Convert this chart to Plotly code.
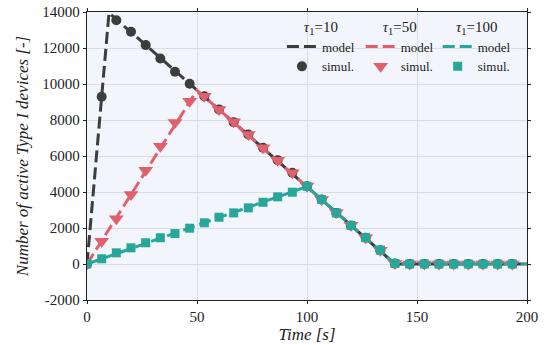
import plotly.graph_objects as go

# ---- data ----
t_model = [0, 10, 20, 30, 40, 50, 60, 70, 80, 90, 100, 110, 120, 130, 140, 150, 160, 170, 180, 190, 200]
model_tau10 = [0, 13950, 12880, 11800, 10730, 9660, 8580, 7510, 6440, 5360, 4290, 3220, 2150, 1070, 0, 0, 0, 0, 0, 0, 0]
model_tau50 = [0, 1930, 3860, 5790, 7720, 9650, 8580, 7510, 6440, 5360, 4290, 3220, 2150, 1070, 0, 0, 0, 0, 0, 0, 0]
model_tau100 = [0, 430, 860, 1290, 1720, 2150, 2580, 3010, 3440, 3870, 4300, 3220, 2150, 1070, 0, 0, 0, 0, 0, 0, 0]

t_sim = [0, 6.67, 13.33, 20, 26.67, 33.33, 40, 46.67, 53.33, 60, 66.67, 73.33, 80, 86.67, 93.33,
         100, 106.67, 113.33, 120, 126.67, 133.33, 140, 146.67, 153.33, 160, 166.67, 173.33, 180, 186.67, 193.33]
sim_tau10 = [0, 9290, 13540, 12900, 12160, 11420, 10680, 10010, 9320, 8590, 7880, 7190, 6460, 5770, 5070,
             4320, 3590, 2840, 2140, 1460, 770, 30, 0, 0, 0, 0, 0, 0, 0, 0]
sim_tau50 = [0, 1270, 2510, 3860, 5210, 6540, 7860, 9040, 9320, 8580, 7900, 7190, 6460, 5770, 5070,
             4330, 3590, 2860, 2150, 1460, 770, 30, 0, 0, 0, 0, 0, 0, 0, 0]
sim_tau100 = [0, 290, 620, 900, 1180, 1460, 1690, 1990, 2290, 2600, 2840, 3120, 3430, 3730, 3990,
              4320, 3580, 2840, 2140, 1460, 770, 30, 0, 0, 0, 0, 0, 0, 0, 0]

x_ticks = [0, 50, 100, 150, 200]
y_ticks = [-2000, 0, 2000, 4000, 6000, 8000, 10000, 12000, 14000]

# ---- style ----
FONT = "Times New Roman, Liberation Serif, DejaVu Serif, serif"
C10 = "#3d3d3d"
C50 = "#e0606e"
C100 = "#27a69a"

series = [
    ("legend", "<i>τ</i><sub>1</sub>=10", model_tau10, sim_tau10, C10, "circle", 10, 0.443),
    ("legend2", "<i>τ</i><sub>1</sub>=50", model_tau50, sim_tau50, C50, "triangle-down", 13, 0.622),
    ("legend3", "<i>τ</i><sub>1</sub>=100", model_tau100, sim_tau100, C100, "square", 9, 0.797),
]

fig = go.Figure()
legends = {}
for leg, title, mod, sim, col, sym, msize, lx in series:
    fig.add_trace(go.Scatter(
        x=t_model, y=mod, mode="lines", name="model", legend=leg,
        line=dict(color=col, width=3, dash="12px,5px"),
    ))
    fig.add_trace(go.Scatter(
        x=t_sim, y=sim, mode="markers", name="simul.", legend=leg,
        marker=dict(color=col, symbol=sym, size=msize, line=dict(width=0)),
    ))
    legends[leg] = dict(
        x=lx, y=1.0, xanchor="left", yanchor="top",
        title=dict(text=title, side="top center", font=dict(family=FONT, size=15, color="#222")),
        font=dict(family=FONT, size=13, color="#222"),
        bgcolor="rgba(0,0,0,0)", borderwidth=0,
        itemwidth=30, tracegroupgap=0,
    )

fig.update_layout(
    width=550, height=345,
    margin=dict(l=87, r=23, t=12, b=45),
    paper_bgcolor="white", plot_bgcolor="#f2f6fc",
    font=dict(family=FONT, size=14, color="#222"),
    showlegend=True,
    xaxis=dict(
        range=[0, 200], tickvals=x_ticks, ticktext=[str(v) for v in x_ticks],
        showgrid=True, gridcolor="#d9dde4", gridwidth=1, zeroline=False,
        showline=True, linecolor="#222", linewidth=1.3, mirror="ticks",
        ticks="outside", ticklen=3, tickcolor="#222", automargin=False,
        tickfont=dict(family=FONT, size=15),
        title=dict(text="<i>Time [s]</i>", font=dict(family=FONT, size=17), standoff=2),
    ),
    yaxis=dict(
        range=[-2000, 14000], tickvals=y_ticks, ticktext=[str(v) for v in y_ticks],
        showgrid=True, gridcolor="#d9dde4", gridwidth=1, zeroline=False,
        showline=True, linecolor="#222", linewidth=1.3, mirror="ticks",
        ticks="outside", ticklen=3, tickcolor="#222", automargin=False,
        tickfont=dict(family=FONT, size=15),
        title=dict(text="<i>Number of active Type I devices [-]</i>", font=dict(family=FONT, size=17), standoff=9),
    ),
    **legends,
)

fig.write_html("out.html", config={"displayModeBar": False},
               post_script="document.body.style.margin='0';")
